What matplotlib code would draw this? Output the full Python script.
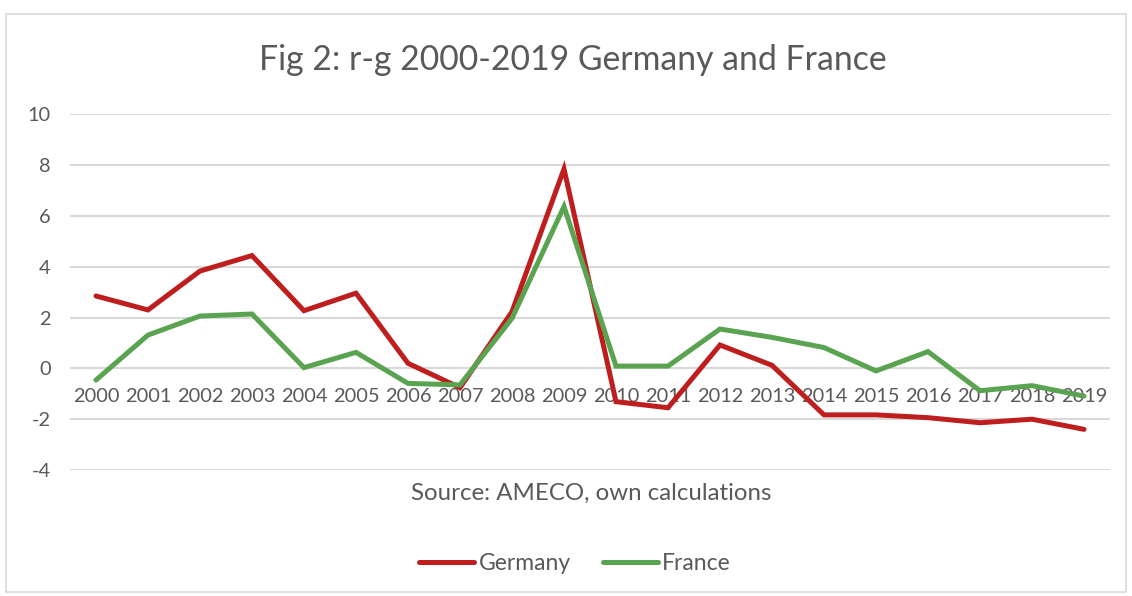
import matplotlib.pyplot as plt
from matplotlib.patches import Rectangle

plt.rcParams['font.family'] = ['Lato', 'DejaVu Sans']

years = [str(y) for y in range(2000, 2020)]
germany = [2.85, 2.3, 3.83, 4.44, 2.27, 2.96, 0.2, -0.76, 2.23, 7.85,
           -1.31, -1.55, 0.92, 0.12, -1.83, -1.83, -1.94, -2.14, -2.0, -2.4]
france = [-0.46, 1.31, 2.06, 2.14, 0.03, 0.63, -0.59, -0.65, 1.97, 6.37,
          0.09, 0.09, 1.55, 1.22, 0.82, -0.1, 0.66, -0.88, -0.68, -1.09]
yticks = [-4, -2, 0, 2, 4, 6, 8, 10]

text_col = '#595959'
grid_col = '#D9D9D9'

fig = plt.figure(figsize=(11.32, 5.96), dpi=100)
ax = fig.add_axes([0.0618, 0.2114, 0.9188, 0.5968])

x = list(range(len(years)))
ax.plot(x, germany, color='#BE1E1E', lw=3.6, label='Germany', solid_capstyle='round', solid_joinstyle='miter', zorder=3)
ax.plot(x, france, color='#5AA351', lw=3.6, label='France', solid_capstyle='round', solid_joinstyle='miter', zorder=3)

ax.set_xlim(-0.5, len(years) - 0.5)
ax.set_ylim(-4, 10)
ax.set_yticks(yticks)
ax.set_yticklabels([str(v) for v in yticks])
ax.yaxis.grid(True, color=grid_col, lw=1.5)
ax.set_axisbelow(True)

ax.set_xticks(x)
ax.set_xticklabels(years)
for s in ax.spines.values():
    s.set_visible(False)
ax.spines['bottom'].set_position(('data', 0))
ax.tick_params(axis='x', length=0, pad=14, labelsize=14.4, labelcolor=text_col)
ax.tick_params(axis='y', length=0, pad=14, labelsize=14.4, labelcolor=text_col)

fig.text(0.506, 0.90, 'Fig 2: r-g 2000-2019 Germany and France', ha='center', va='center',
         fontsize=24.3, color=text_col)
fig.text(0.522, 0.173, 'Source: AMECO, own calculations', ha='center', va='center',
         fontsize=17.3, color=text_col)

fig.legend(loc='center', bbox_to_anchor=(0.508, 0.055), ncol=2, frameon=False,
           fontsize=16.5, labelcolor=text_col, handlelength=2.4, handletextpad=0.2,
           columnspacing=1.4)

fig.add_artist(Rectangle((6 / 1132, 4 / 596), 1120 / 1132, 578 / 596, transform=fig.transFigure,
                         fill=False, edgecolor=grid_col, lw=1.2))

fig.savefig('out.png', dpi=100)
